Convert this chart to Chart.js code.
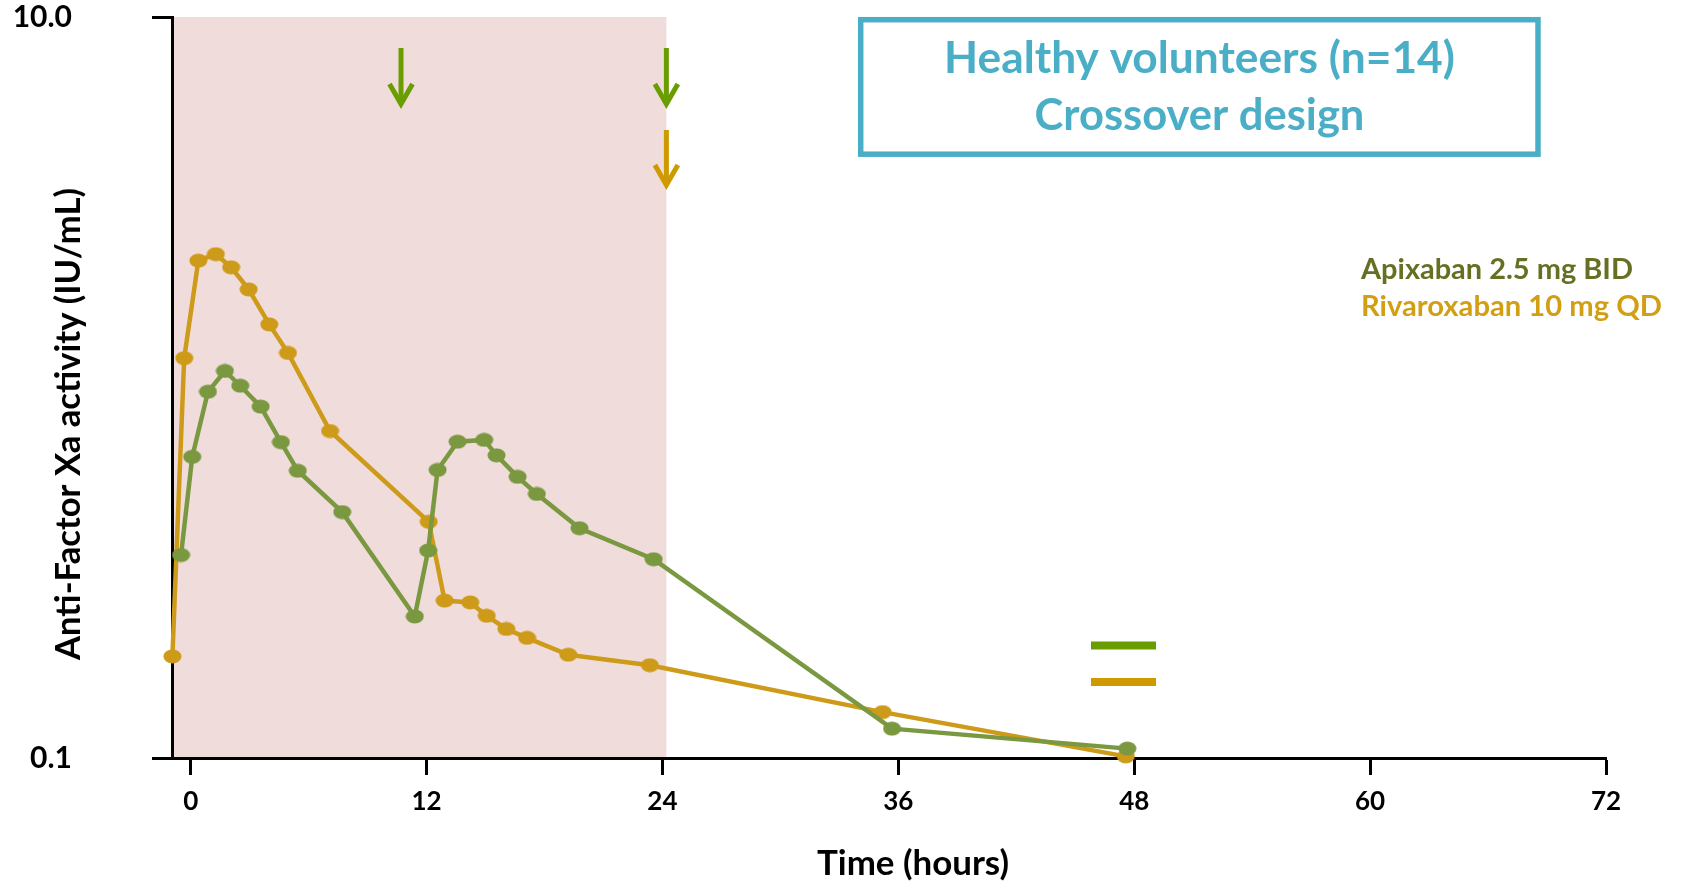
<!DOCTYPE html>
<html><head><meta charset="utf-8">
<script src="https://cdn.jsdelivr.net/npm/chart.js@4.4.1/dist/chart.umd.min.js"></script>
<style>html,body{margin:0;padding:0;background:#fff;}canvas{display:block;}</style>
</head><body>
<canvas id="c" width="1681" height="881"></canvas>
<script>
// ---- data ----
const xTicks = [0, 12, 24, 36, 48, 60, 72];
const yTicks = [0.1, 10];
const yTickLabels = ['0.1', '10.0'];

const apixLabel = 'Apixaban 2.5 mg BID';
const apixHours  = [-0.49, 0.08, 0.88, 1.74, 2.52, 3.56, 4.59, 5.45, 7.71, 11.40, 12.08, 12.56, 13.58, 14.93, 15.56, 16.63, 17.61, 19.78, 23.55, 35.68, 47.65];
const apixValues = [0.353, 0.650, 0.974, 1.108, 1.011, 0.888, 0.712, 0.596, 0.461, 0.241, 0.363, 0.599, 0.714, 0.722, 0.656, 0.574, 0.516, 0.417, 0.344, 0.120, 0.106];

const rivaLabel = 'Rivaroxaban 10 mg QD';
const rivaHours  = [-0.93, -0.33, 0.39, 1.28, 2.06, 2.95, 4.00, 4.95, 7.09, 12.11, 12.92, 14.22, 15.06, 16.06, 17.11, 19.21, 23.36, 35.2, 47.57];
const rivaValues = [0.188, 1.20, 2.20, 2.29, 2.11, 1.84, 1.48, 1.24, 0.763, 0.434, 0.266, 0.263, 0.242, 0.223, 0.211, 0.190, 0.178, 0.133, 0.101];

const shadeEndHour = 24.2;
const apixDoseHours = [10.7, 24.2];
const rivaDoseHours = [24.2];

const boxLines = ['Healthy volunteers (n=14)', 'Crossover design'];
const xTitle = 'Time (hours)';
const yTitle = 'Anti-Factor Xa activity (IU/mL)';

// ---- styles ----
const FONT = 'Lato, "Open Sans", sans-serif';
const APIX_COLOR = '#7a9840';
const RIVA_COLOR = '#cd9b19';
const APIX_TEXT = '#677022';
const RIVA_TEXT = '#d29f14';
const APIX_BRIGHT = '#6a9e00';
const RIVA_BRIGHT = '#cf9a00';
const BOX_COLOR = '#4baec7';
const SHADE = '#f1dcdc';

function ellipse(color) {
  const c = document.createElement('canvas');
  c.width = 19; c.height = 15;
  const g = c.getContext('2d');
  g.fillStyle = color;
  g.beginPath(); g.ellipse(9.5, 7.5, 9, 7, 0, 0, Math.PI * 2); g.fill();
  return c;
}

function fitSize(ctx, text, width) {
  ctx.font = 'bold 100px ' + FONT;
  return 100 * width / ctx.measureText(text).width;
}

const decor = {
  id: 'decor',
  beforeDraw(chart) {
    const {ctx, chartArea: a, scales: {x}} = chart;
    ctx.save();
    ctx.fillStyle = SHADE;
    const xe = x.getPixelForValue(shadeEndHour);
    ctx.fillRect(a.left, a.top, xe - a.left, a.bottom - a.top);
    ctx.restore();
  },
  afterDraw(chart) {
    const {ctx, chartArea: a, scales: {x}} = chart;
    ctx.save();
    // dosing arrows
    function arrow(h, y0, y1, color) {
      const px = x.getPixelForValue(h);
      ctx.strokeStyle = color; ctx.lineWidth = 5; ctx.lineCap = 'butt'; ctx.lineJoin = 'miter';
      ctx.beginPath(); ctx.moveTo(px, y0); ctx.lineTo(px, y1 - 3); ctx.stroke();
      ctx.beginPath(); ctx.moveTo(px - 11.5, y1 - 22); ctx.lineTo(px, y1 - 2); ctx.lineTo(px + 11.5, y1 - 22); ctx.stroke();
    }
    apixDoseHours.forEach(h => arrow(h, 48, 106, APIX_BRIGHT));
    rivaDoseHours.forEach(h => arrow(h, 130, 187, RIVA_BRIGHT));

    // info box
    ctx.strokeStyle = BOX_COLOR; ctx.lineWidth = 5.5;
    ctx.strokeRect(860.7, 19.7, 677.3, 134.5);
    ctx.fillStyle = BOX_COLOR; ctx.textAlign = 'center'; ctx.textBaseline = 'alphabetic';
    let s = fitSize(ctx, boxLines[0], 511);
    ctx.font = 'bold ' + s + 'px ' + FONT; ctx.fillText(boxLines[0], 1199.5, 72.7);
    s = fitSize(ctx, boxLines[1], 330);
    ctx.font = 'bold ' + s + 'px ' + FONT; ctx.fillText(boxLines[1], 1199.5, 130);

    // legend text
    ctx.textAlign = 'left';
    s = fitSize(ctx, apixLabel, 272);
    ctx.font = 'bold ' + s + 'px ' + FONT; ctx.fillStyle = APIX_TEXT; ctx.fillText(apixLabel, 1361, 279);
    s = fitSize(ctx, rivaLabel, 301);
    ctx.font = 'bold ' + s + 'px ' + FONT; ctx.fillStyle = RIVA_TEXT; ctx.fillText(rivaLabel, 1361, 316);

    // legend swatches
    ctx.fillStyle = APIX_BRIGHT; ctx.fillRect(1091, 641.5, 65, 8);
    ctx.fillStyle = RIVA_BRIGHT; ctx.fillRect(1091, 678, 65, 8);

    // axis titles
    ctx.fillStyle = '#000'; ctx.textAlign = 'center';
    s = fitSize(ctx, xTitle, 192);
    ctx.font = 'bold ' + s + 'px ' + FONT; ctx.fillText(xTitle, 913, 875);
    s = fitSize(ctx, yTitle, 472);
    ctx.font = 'bold ' + s + 'px ' + FONT;
    ctx.translate(80, 424); ctx.rotate(-Math.PI / 2); ctx.fillText(yTitle, 0, 0);
    ctx.restore();
  }
};

const zeroPad = (sc) => { sc.paddingLeft = 0; sc.paddingRight = 0; sc.paddingTop = 0; sc.paddingBottom = 0; };

new Chart(document.getElementById('c'), {
  type: 'line',
  data: {
    datasets: [
      {
        label: apixLabel,
        data: apixHours.map((h, i) => ({x: h, y: apixValues[i]})),
        borderColor: APIX_COLOR, backgroundColor: APIX_COLOR,
        borderWidth: 4.5, pointStyle: ellipse(APIX_COLOR), pointRadius: 9, tension: 0, clip: false
      },
      {
        label: rivaLabel,
        data: rivaHours.map((h, i) => ({x: h, y: rivaValues[i]})),
        borderColor: RIVA_COLOR, backgroundColor: RIVA_COLOR,
        borderWidth: 4.5, pointStyle: ellipse(RIVA_COLOR), pointRadius: 9, tension: 0, clip: false
      }
    ]
  },
  options: {
    responsive: false, animation: false, events: [],
    layout: {padding: {top: 17, right: 75, bottom: 0, left: 0}},
    plugins: {legend: {display: false}, tooltip: {enabled: false}, title: {display: false}},
    scales: {
      x: {
        type: 'linear', min: -0.95, max: 72,
        afterBuildTicks: (sc) => { sc.ticks = xTicks.map(v => ({value: v})); },
        afterFit: (sc) => { sc.height = 123; zeroPad(sc); },
        ticks: {color: '#000', font: {family: FONT, size: 26, weight: 'bold'}, padding: 11, maxRotation: 0, autoSkip: false},
        grid: {display: true, drawOnChartArea: false, drawTicks: true, tickLength: 17, tickWidth: 3, color: '#000'},
        border: {display: true, color: '#000', width: 3}
      },
      y: {
        type: 'logarithmic', min: 0.1, max: 10,
        afterBuildTicks: (sc) => { sc.ticks = yTicks.map(v => ({value: v})); },
        afterFit: (sc) => { sc.width = 172; zeroPad(sc); },
        ticks: {
          color: '#000', font: {family: FONT, size: 30, weight: 'bold'}, padding: 80, autoSkip: false,
          callback: (v) => { const i = yTicks.indexOf(Number(v)); return i >= 0 ? yTickLabels[i] : ''; }
        },
        grid: {display: true, drawOnChartArea: false, drawTicks: true, tickLength: 20, tickWidth: 3, color: '#000'},
        border: {display: true, color: '#000', width: 3}
      }
    }
  },
  plugins: [decor]
});
</script>
</body></html>
